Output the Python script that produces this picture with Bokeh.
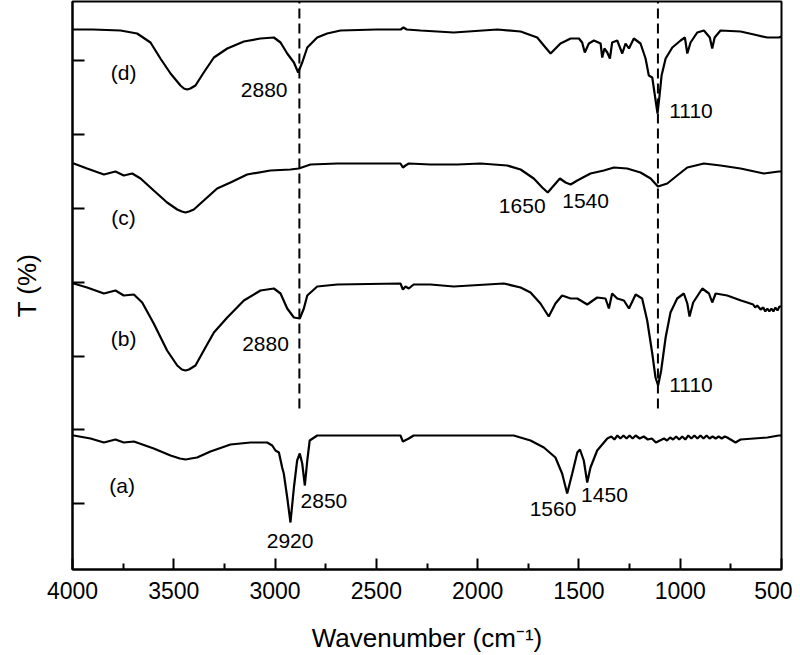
from bokeh.plotting import figure
from bokeh.models import Range1d, FixedTicker
from bokeh.core.properties import value
from bokeh.embed import file_html
from bokeh.resources import INLINE

# ---- data (wavenumber in cm-1, transmittance in arbitrary stacked units) ----
wn_d = [4000, 3994, 3900, 3763, 3681, 3615, 3566, 3516, 3467, 3450, 3434, 3418, 3393, 3352, 3302, 3236, 3154, 3072, 3006, 2973, 2940, 2907, 2886, 2866, 2841, 2792, 2743, 2677, 2500, 2380, 2366, 2350, 2282, 2118, 1903, 1788, 1706, 1665, 1640, 1591, 1541, 1500, 1484, 1471, 1451, 1426, 1393, 1385, 1374, 1360, 1347, 1336, 1311, 1286, 1270, 1253, 1229, 1196, 1171, 1155, 1138, 1125, 1112, 1102, 1092, 1072, 1039, 998, 977, 965, 949, 916, 883, 854, 842, 830, 801, 702, 636, 570, 513, 500]
t_d = [540, 540, 540, 539, 536, 527, 511, 496, 484, 481, 480, 481, 484, 497, 512, 521, 528, 531, 532, 527, 516, 507, 497, 507, 522, 532, 536, 539, 540, 540, 542, 540, 539, 537, 540, 538, 532, 522, 516, 526, 531, 531, 527, 517, 526, 529, 526, 512, 521, 517, 511, 527, 529, 516, 526, 521, 531, 526, 511, 494, 492, 474, 456, 474, 494, 511, 522, 529, 532, 516, 527, 537, 539, 532, 521, 532, 539, 538, 535, 532, 532, 533]

wn_c = [4000, 3994, 3928, 3845, 3788, 3747, 3705, 3664, 3599, 3533, 3483, 3460, 3442, 3425, 3401, 3352, 3286, 3220, 3138, 3023, 2924, 2883, 2825, 2693, 2381, 2369, 2356, 2340, 2233, 2100, 1986, 1854, 1788, 1723, 1681, 1654, 1624, 1594, 1566, 1541, 1508, 1443, 1377, 1327, 1262, 1196, 1146, 1110, 1064, 1015, 965, 883, 801, 702, 587, 513, 500]
t_c = [406, 406, 401, 395, 398, 394, 396, 391, 379, 367, 360, 358, 357, 358, 360, 369, 381, 387, 395, 399, 400, 401, 405, 406, 406, 402, 404, 406, 405, 405, 406, 404, 400, 391, 382, 377, 384, 391, 387, 385, 389, 396, 399, 402, 401, 397, 391, 383, 386, 394, 402, 406, 404, 401, 396, 398, 398]

wn_b = [4000, 3994, 3928, 3845, 3788, 3747, 3697, 3656, 3599, 3533, 3483, 3460, 3442, 3425, 3393, 3352, 3302, 3236, 3154, 3072, 3006, 2973, 2940, 2907, 2878, 2858, 2841, 2792, 2693, 2381, 2369, 2356, 2340, 2316, 2233, 2118, 1871, 1788, 1739, 1690, 1649, 1616, 1583, 1541, 1508, 1459, 1410, 1369, 1352, 1336, 1311, 1278, 1253, 1220, 1188, 1163, 1138, 1122, 1109, 1094, 1072, 1048, 1015, 982, 965, 954, 936, 891, 858, 842, 825, 768, 700, 669, 640, 630, 620, 603, 590, 580, 570, 560, 550, 540, 530, 520, 510, 500]
t_b = [286, 286, 282, 276, 279, 274, 275, 267, 246, 219, 204, 200, 199, 200, 204, 219, 237, 252, 269, 279, 281, 276, 261, 252, 251, 261, 274, 283, 285, 286, 280, 283, 281, 285, 285, 283, 286, 282, 277, 266, 253, 266, 274, 271, 271, 265, 272, 271, 261, 276, 271, 269, 261, 275, 271, 249, 216, 192, 184, 199, 232, 257, 271, 276, 266, 253, 267, 281, 276, 267, 276, 274, 269, 267, 265, 262, 264, 260, 262, 258, 261, 258, 261, 258, 262, 259, 263, 263]

wn_a = [4000, 3994, 3911, 3845, 3788, 3747, 3697, 3599, 3516, 3470, 3442, 3415, 3385, 3319, 3220, 3121, 3039, 3014, 2998, 2981, 2965, 2957, 2940, 2924, 2907, 2891, 2878, 2866, 2853, 2841, 2829, 2792, 2381, 2369, 2340, 2316, 2233, 1822, 1739, 1673, 1616, 1583, 1558, 1533, 1508, 1495, 1476, 1459, 1443, 1410, 1360, 1340, 1325, 1310, 1295, 1280, 1265, 1250, 1235, 1220, 1200, 1180, 1160, 1140, 1120, 1100, 1080, 1065, 1050, 1035, 1020, 1005, 990, 975, 960, 945, 930, 915, 900, 885, 870, 855, 840, 825, 810, 795, 780, 768, 727, 702, 636, 570, 513, 500]
t_a = [134, 134, 131, 127, 130, 127, 128, 121, 114, 111, 110, 111, 112, 118, 125, 127, 127, 124, 119, 117, 102, 96, 72, 47, 82, 109, 116, 106, 84, 109, 129, 134, 134, 128, 131, 134, 134, 134, 129, 122, 112, 96, 76, 96, 117, 120, 109, 87, 102, 119, 131, 133, 130, 134, 131, 134, 131, 134, 131, 134, 131, 133, 130, 131, 127, 129, 131, 129, 132, 130, 133, 130, 133, 130, 134, 131, 134, 131, 134, 131, 134, 131, 133, 131, 133, 131, 133, 132, 127, 130, 131, 132, 134, 134]

# reference lines
ref_wn = [2880, 1110]
ref_t0 = [161, 161]
ref_t1 = [568, 568]

# curve names
name_wn = [3748, 3748, 3748, 3755]
name_t = [497, 352, 231, 84]
name_txt = ["(d)", "(c)", "(b)", "(a)"]

# peak annotations
peak_wn = [3054, 947, 1780, 1467, 3047, 947, 2759, 2926, 1628, 1374]
peak_t = [480, 459, 364, 369, 226, 185, 69, 29, 61, 75]
peak_txt = ["2880", "1110", "1650", "1540", "2880", "1110", "2850", "2920", "1560", "1450"]

x_ticks = [4000, 3500, 3000, 2500, 2000, 1500, 1000, 500]
x_minor = [3750, 3250, 2750, 2250, 1750, 1250, 750]
y_ticks = [66, 140, 213, 287, 361, 435, 509]

FONT = "Liberation Sans"

p = figure(frame_width=709, frame_height=568, min_border_left=72, min_border_right=11,
           min_border_top=1, min_border_bottom=70,
           x_range=Range1d(4000, 500), y_range=Range1d(0, 568),
           output_backend="svg", toolbar_location=None)
p.grid.visible = False
p.outline_line_color = "black"
p.outline_line_width = 2
p.background_fill_color = "white"
p.border_fill_color = "white"

for wn, t in [(wn_a, t_a), (wn_b, t_b), (wn_c, t_c), (wn_d, t_d)]:
    p.line(wn, t, line_color="black", line_width=2.2)

p.segment(x0=ref_wn, y0=ref_t0, x1=ref_wn, y1=ref_t1, line_color="black",
          line_width=2, line_dash="10 5")

p.text(x=name_wn, y=name_t, text=name_txt, text_font=value(FONT), text_font_size="21px",
       text_align="center", text_baseline="middle", text_color="black")
p.text(x=peak_wn, y=peak_t, text=peak_txt, text_font=value(FONT), text_font_size="21px",
       text_align="center", text_baseline="middle", text_color="black")

xa = p.xaxis[0]
xa.ticker = FixedTicker(ticks=x_ticks, minor_ticks=x_minor)
xa.axis_label = "Wavenumber (cm\u207b\u00b9)"
ya = p.yaxis[0]
ya.ticker = FixedTicker(ticks=y_ticks, minor_ticks=[])
ya.major_label_overrides = {t: "" for t in y_ticks}
ya.axis_label = "T (%)"

for ax in (xa, ya):
    ax.axis_line_width = 2
    ax.axis_line_color = "black"
    ax.major_tick_line_width = 2
    ax.minor_tick_line_width = 2
    ax.major_tick_line_color = "black"
    ax.minor_tick_line_color = "black"
    ax.major_tick_out = 0
    ax.minor_tick_out = 0
    ax.major_label_text_font = FONT
    ax.major_label_text_font_size = "23px"
    ax.major_label_text_color = "black"
    ax.axis_label_text_font = FONT
    ax.axis_label_text_font_size = "26px"
    ax.axis_label_text_font_style = "normal"
    ax.axis_label_text_color = "black"

xa.major_tick_in = 11
xa.minor_tick_in = 6
xa.major_label_standoff = 12
xa.axis_label_standoff = 21
ya.major_tick_in = 12
ya.minor_tick_in = 0
ya.major_label_standoff = 0
ya.axis_label_standoff = 31

open("out.html", "w").write(file_html(p, INLINE))
